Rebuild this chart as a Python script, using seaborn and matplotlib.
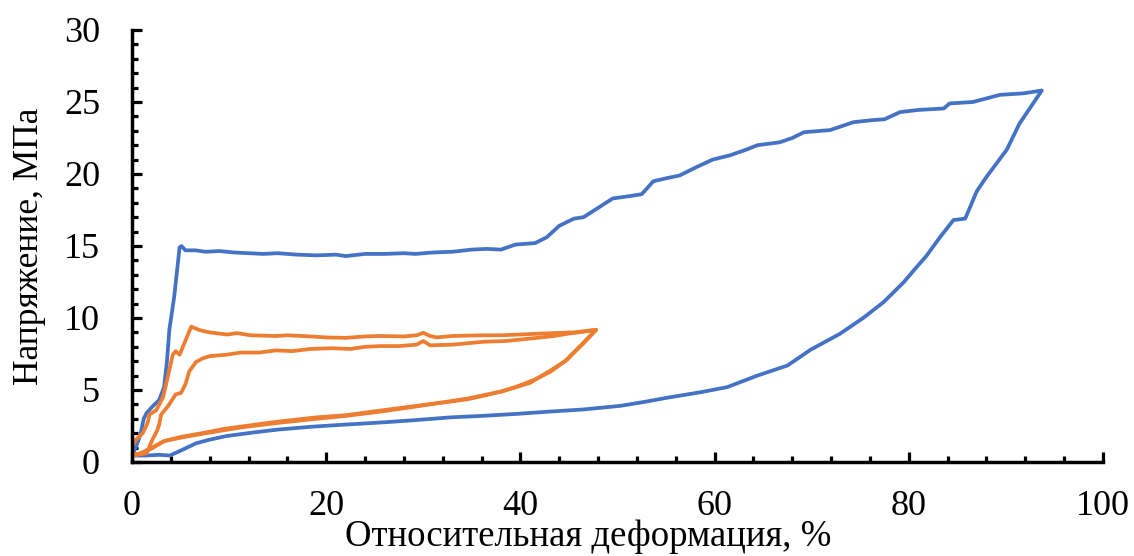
import numpy as np
import pandas as pd
import matplotlib
matplotlib.use("Agg")
import matplotlib.pyplot as plt
from matplotlib.ticker import MultipleLocator
import seaborn as sns

# ---- data (strain %, stress MPa) ----
blue_load_x = [0, 0.1, 0.5, 0.9, 1.2, 1.5, 2.1, 2.8, 3.3, 3.6, 3.85, 4.35, 4.9, 5.1, 5.5, 6.5, 7.6, 9.0,
               10.5, 12, 13.5, 15, 17, 19, 21, 22, 24, 26, 28, 29.2, 31, 33, 35, 36.5, 38, 39.5, 41.5,
               42.7, 44, 45.5, 46.5, 47.9, 49.5, 51.6, 52.5, 53.7, 55, 56.4, 58.2, 59.8, 61.6, 63.3,
               64.4, 66.7, 68, 69.2, 71.9, 74.3, 76.4, 77.5, 79.1, 81, 83.6, 84.2, 86.6, 89.4, 91.8, 93.7]
blue_load_y = [0.3, 0.6, 1.2, 2.0, 3.0, 3.4, 3.85, 4.3, 5.2, 7.0, 9.2, 11.5, 14.9, 15.0, 14.7, 14.7, 14.6, 14.65,
               14.55, 14.5, 14.45, 14.5, 14.4, 14.35, 14.4, 14.3, 14.45, 14.45, 14.5, 14.45, 14.55, 14.6, 14.75,
               14.8, 14.75, 15.1, 15.2, 15.6, 16.4, 16.9, 17.0, 17.6, 18.3, 18.5, 18.6, 19.5, 19.7, 19.9, 20.5,
               21.0, 21.3, 21.7, 22.0, 22.2, 22.5, 22.9, 23.05, 23.6, 23.75, 23.8, 24.3, 24.45, 24.55, 24.9,
               25.0, 25.5, 25.6, 25.8]
blue_unload_x = [93.7, 92.5, 91.4, 90.1, 89.0, 88, 87.0, 86.0, 85.8, 84.6, 83.2, 81.8, 80.5, 79.5, 77.4,
                 75.3, 72.9, 69.9, 67.5, 64.4, 61.3, 58.6, 55, 53, 50.3, 46.5, 43, 39.8, 36, 32.8, 29,
                 25.8, 22, 18.5, 15, 12.5, 9.7, 8.0, 6.6, 5.2, 3.9, 2.8, 1.5, 0.3]
blue_unload_y = [25.8, 24.6, 23.5, 21.7, 20.7, 19.8, 18.8, 17.2, 16.9, 16.8, 15.6, 14.3, 13.3, 12.5, 11.1,
                 10.0, 8.9, 7.8, 6.7, 6.0, 5.2, 4.85, 4.45, 4.2, 3.9, 3.65, 3.5, 3.35, 3.2, 3.1, 2.9,
                 2.75, 2.6, 2.45, 2.25, 2.05, 1.8, 1.55, 1.3, 0.85, 0.45, 0.5, 0.45, 0.45]

orange1_load_x = [0, 0, 0.4, 1.1, 1.6, 1.8, 2.5, 3.2, 3.7, 4.2, 4.5, 4.9, 5.4, 6.1, 7.0, 8.0, 9.8, 10.8,
                  12.2, 14.8, 16, 18.4, 20, 22.0, 24, 25.6, 28, 29.3, 30.0, 30.7, 31.4, 33, 36.2, 38,
                  39.9, 41.5, 43.3, 45.5, 47.8]
orange1_load_y = [0, 1.1, 1.55, 2.0, 2.7, 3.3, 3.6, 4.5, 5.95, 7.45, 7.7, 7.45, 8.26, 9.4, 9.15, 9.0, 8.85,
                  8.95, 8.8, 8.75, 8.8, 8.72, 8.65, 8.62, 8.72, 8.75, 8.72, 8.8, 8.97, 8.75, 8.65, 8.75,
                  8.8, 8.8, 8.85, 8.9, 8.95, 9.0, 9.18]
orange1_unload_x = [47.8, 46.5, 45.5, 44.8, 43.1, 41.4, 39.5, 38, 36.2, 34.5, 32.8, 29.3, 25.9, 22, 19,
                    15, 12.2, 9.5, 7.6, 5.1, 3.3, 2.2, 1.0, 0.4]
orange1_unload_y = [9.18, 8.25, 7.6, 7.1, 6.27, 5.7, 5.2, 4.9, 4.6, 4.35, 4.2, 3.9, 3.6, 3.25, 3.1,
                    2.8, 2.55, 2.3, 2.05, 1.75, 1.45, 1.05, 0.65, 0.45]
orange2_load_x = [0.0, 1.0, 1.5, 2.1, 2.6, 2.8, 3.0, 3.7, 4.5, 5.05, 5.5, 5.9, 6.6, 7.3, 8.0, 9.7, 11.2,
                  13.1, 14.8, 16.5, 18.4, 20.5, 22.5, 24, 25.6, 27.5, 29.3, 30.0, 30.7, 33, 36.2, 38.5,
                  41.4, 43.5, 44.8, 46.5, 47.8]
orange2_load_y = [0.5, 0.55, 0.6, 1.55, 2.2, 2.6, 3.3, 3.87, 4.7, 4.8, 5.4, 6.3, 6.95, 7.2, 7.35, 7.45,
                  7.6, 7.6, 7.75, 7.7, 7.85, 7.9, 7.85, 8.0, 8.05, 8.05, 8.15, 8.4, 8.1, 8.15, 8.35, 8.4,
                  8.6, 8.75, 8.9, 9.05, 9.18]
orange2_unload_x = [47.8, 46.8, 45.8, 44.6, 43.2, 41.0, 38.1, 34.5, 29.2, 25.6, 22, 18.4, 14.8, 11.2,
                    7.6, 5.1, 3.3, 2.2, 1.0, 0.0]
orange2_unload_y = [9.18, 8.5, 7.8, 7.0, 6.4, 5.5, 4.9, 4.4, 3.85, 3.5, 3.2, 2.96, 2.7, 2.4,
                    2.0, 1.7, 1.45, 1.0, 0.6, 0.5]

x_ticks = [0, 20, 40, 60, 80, 100]
y_ticks = [0, 5, 10, 15, 20, 25, 30]
x_label = "Относительная деформация, %"
y_label = "Напряжение, МПа"

# ---- build table ----
parts = [
    ("s1", "c1", blue_load_x + blue_unload_x, blue_load_y + blue_unload_y),
    ("s2", "c1", orange1_load_x + orange1_unload_x, orange1_load_y + orange1_unload_y),
    ("s2", "c2", orange2_load_x + orange2_unload_x, orange2_load_y + orange2_unload_y),
]
frames = []
for sample, cyc, xs, ys in parts:
    frames.append(pd.DataFrame({"x": xs, "y": ys, "sample": sample, "cycle": sample + cyc}))
df = pd.concat(frames, ignore_index=True)

sns.set_style("white")
plt.rcParams["font.family"] = ["Liberation Serif", "DejaVu Serif"]
plt.rcParams["text.color"] = "black"
plt.rcParams["axes.labelcolor"] = "black"

fig = plt.figure(figsize=(11.34, 5.56), dpi=100)
ax = fig.add_axes([132 / 1134, 1 - 462 / 556, (1103 - 132) / 1134, (462 - 30) / 556])

sns.lineplot(data=df, x="x", y="y", hue="sample", units="cycle", estimator=None, sort=False,
             palette={"s1": "#4472C4", "s2": "#ED7D31"}, linewidth=2.7, legend=False, ax=ax)

ax.set_xlim(0, 100)
ax.set_ylim(0, 30)
ax.set_xticks(x_ticks)
ax.set_yticks(y_ticks)
ax.xaxis.set_minor_locator(MultipleLocator(4))
ax.yaxis.set_minor_locator(MultipleLocator(1))

for s in ["top", "right"]:
    ax.spines[s].set_visible(False)
for s in ["left", "bottom"]:
    ax.spines[s].set_color("black")
    ax.spines[s].set_linewidth(2.5)

ax.tick_params(axis="both", which="major", direction="in", length=7, width=2.3, colors="black",
               labelsize=26)
ax.tick_params(axis="both", which="minor", direction="in", length=4.5, width=2.3, colors="black")
ax.tick_params(axis="x", which="major", pad=20, bottom=True)
ax.tick_params(axis="x", which="minor", bottom=True)
ax.tick_params(axis="y", which="major", pad=23, left=True)
ax.tick_params(axis="y", which="minor", left=True)

ax.set_xlabel(x_label, fontsize=26.5)
ax.set_ylabel(y_label, fontsize=25.5)
ax.xaxis.set_label_coords(0.47, -0.2135)
ax.xaxis.label.set_va("bottom")
ax.yaxis.set_label_coords(-0.106, 0.5)
ax.yaxis.label.set_va("center")
ax.grid(False)

fig.savefig("out.png", dpi=100)
